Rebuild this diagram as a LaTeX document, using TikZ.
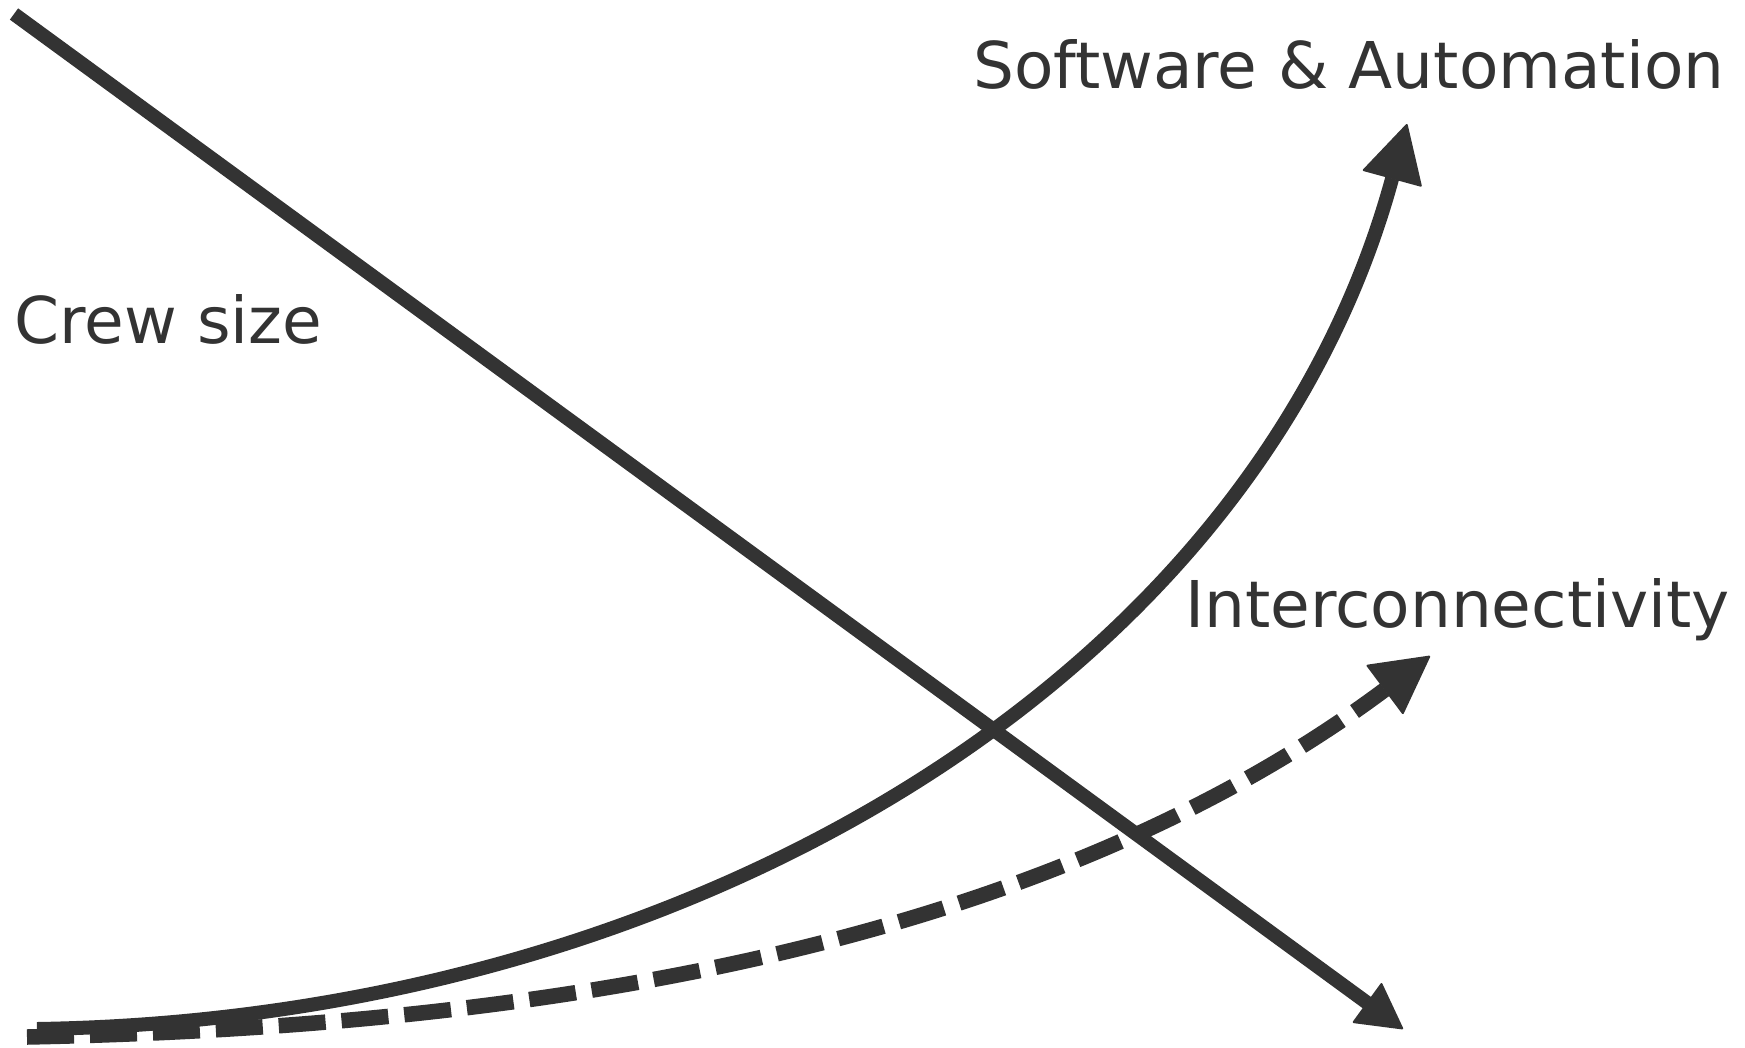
\documentclass[tikz,border=0pt]{standalone}
\usepackage{fontspec}
\setmainfont{DejaVu Sans}
\usetikzlibrary{arrows.meta}
\definecolor{ink}{HTML}{333333}
\begin{document}
\begin{tikzpicture}[x=1pt,y=-1pt,
  trend/.style={draw=ink, line width=14pt},
  dashtrend/.style={draw=ink, line width=15.5pt, dash pattern=on 47pt off 16pt},
  lbl/.style={text=ink, inner sep=0pt, anchor=base west,
    font=\fontsize{64.5}{77}\selectfont},
  bigtip/.style={-{Triangle[length=58pt,width=62pt,line width=2pt,round]}},
  smalltip/.style={-{Triangle[length=46pt,width=50pt,line width=2pt,round]}}
]
\useasboundingbox (0,0) rectangle (1745,1047);

% labels
\node[lbl] (crew) at (14,343) {Crew size};
\node[lbl] (soft) at (973,88) {Software \& Automation};
\node[lbl] (inter) at (1185,627) {Interconnectivity};

% end points of the three trends
\coordinate (crewA) at (14,14);
\coordinate (crewB) at (1403,1029);
\coordinate (softA) at (37,1029);
\coordinate (softB) at (1407,124);
\coordinate (interA) at (27,1037);
\coordinate (interB) at (1430,656);

% falling crew size
\draw[trend, smalltip] (crewA) -- (crewB);
% rising software and automation
\draw[trend, bigtip] (softA) .. controls (687,1019) and (1255,680) .. (softB);
% rising interconnectivity (dashed)
\draw[dashtrend, bigtip] (interA) .. controls (527,1027) and (1035,950) .. (interB);
\end{tikzpicture}
\end{document}
